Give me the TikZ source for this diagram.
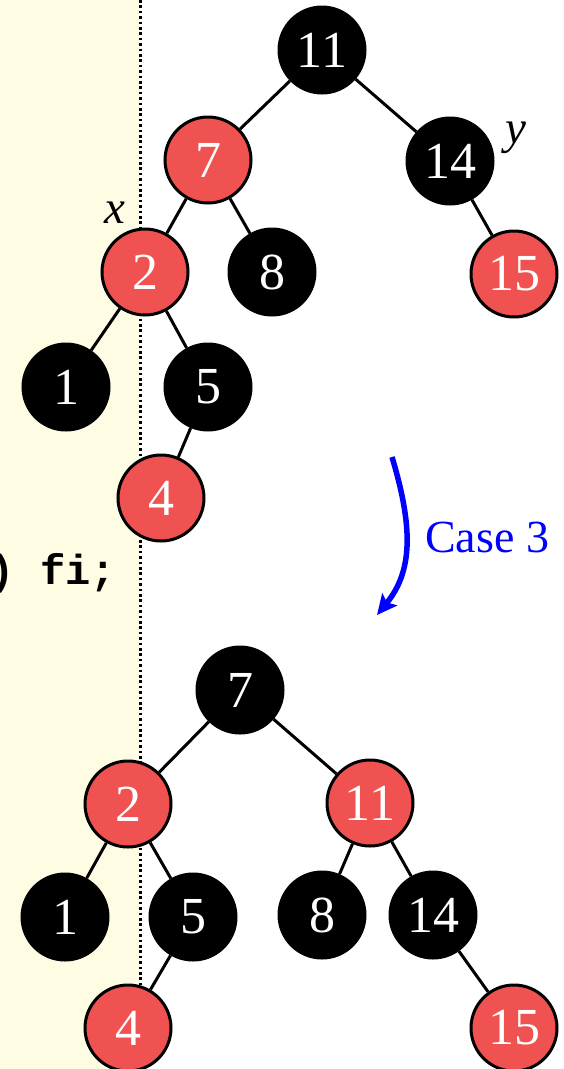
\documentclass[tikz,border=0pt]{standalone}
\usepackage{fontspec}
\setmainfont{Liberation Serif}
\setmonofont{Liberation Mono}
\usetikzlibrary{arrows.meta}
\definecolor{codebg}{RGB}{255,252,228}
\definecolor{rbred}{RGB}{240,82,82}
\definecolor{casecol}{RGB}{0,0,255}
\tikzset{
  rbnode/.style={circle, minimum size=86pt, inner sep=0pt, line width=3pt,
    draw=black, text=white, font=\fontsize{52}{56}\selectfont},
  blk/.style={rbnode, fill=black},
  redn/.style={rbnode, fill=rbred},
  edge/.style={line width=3pt, black},
  varlabel/.style={font=\fontsize{47}{50}\selectfont\itshape, inner sep=0pt, anchor=base},
}
\begin{document}
\begin{tikzpicture}[x=1pt,y=-1pt]
\useasboundingbox (0,0) rectangle (564,1069);
\clip (0,0) rectangle (564,1069);
% code panel on the left
\fill[codebg] (0,0) rectangle (140,1069);
\draw[line width=3pt, dash pattern=on 2.6pt off 2.8pt] (140,0) -- (140,1069);
\node[anchor=base west, inner sep=0pt, font=\fontsize{42}{46}\selectfont\ttfamily\bfseries] (code) at (-10.5,584) {) fi;};

% tree before the rotation
\node[blk]  (t11) at (322,50)  {11};
\node[redn] (t7)  at (208,160) {7};
\node[blk]  (t14) at (450,161) {14};
\node[redn] (t2)  at (145,272) {2};
\node[blk]  (t8)  at (272,272) {8};
\node[redn] (t15) at (514,274) {15};
\node[blk]  (t1)  at (66,387)  {1};
\node[blk]  (t5)  at (208,387) {5};
\node[redn] (t4)  at (161,498) {4};
\node[varlabel] (lx) at (115,223) {x};
\node[varlabel] (ly) at (516,143) {y};
\draw[edge] (t11) -- (t7);
\draw[edge] (t11) -- (t14);
\draw[edge] (t7) -- (t2);
\draw[edge] (t7) -- (t8);
\draw[edge] (t14) -- (t15);
\draw[edge] (t2) -- (t1);
\draw[edge] (t2) -- (t5);
\draw[edge] (t5) -- (t4);

% rotation arrow
\coordinate (arrs) at (392,457);
\coordinate (arre) at (377,615);
\draw[casecol, line width=5.5pt, -{Stealth[length=20pt,width=19pt,inset=4pt]}]
  (arrs) .. controls (414,530) and (412,572) .. (arre);
\node[casecol, anchor=base west, inner sep=0pt, font=\fontsize{46}{50}\selectfont] (case) at (425,552) {Case 3};

% tree after the rotation
\node[blk]  (b7)  at (240,690)  {7};
\node[redn] (b2)  at (128,804)  {2};
\node[redn] (b11) at (370,803)  {11};
\node[blk]  (b1)  at (65,917)   {1};
\node[blk]  (b5)  at (193,917)  {5};
\node[blk]  (b8)  at (322,915)  {8};
\node[blk]  (b14) at (433,915)  {14};
\node[redn] (b4)  at (128,1028) {4};
\node[redn] (b15) at (514,1028) {15};
\draw[edge] (b7) -- (b2);
\draw[edge] (b7) -- (b11);
\draw[edge] (b2) -- (b1);
\draw[edge] (b2) -- (b5);
\draw[edge] (b5) -- (b4);
\draw[edge] (b11) -- (b8);
\draw[edge] (b11) -- (b14);
\draw[edge] (b14) -- (b15);
\end{tikzpicture}
\end{document}
